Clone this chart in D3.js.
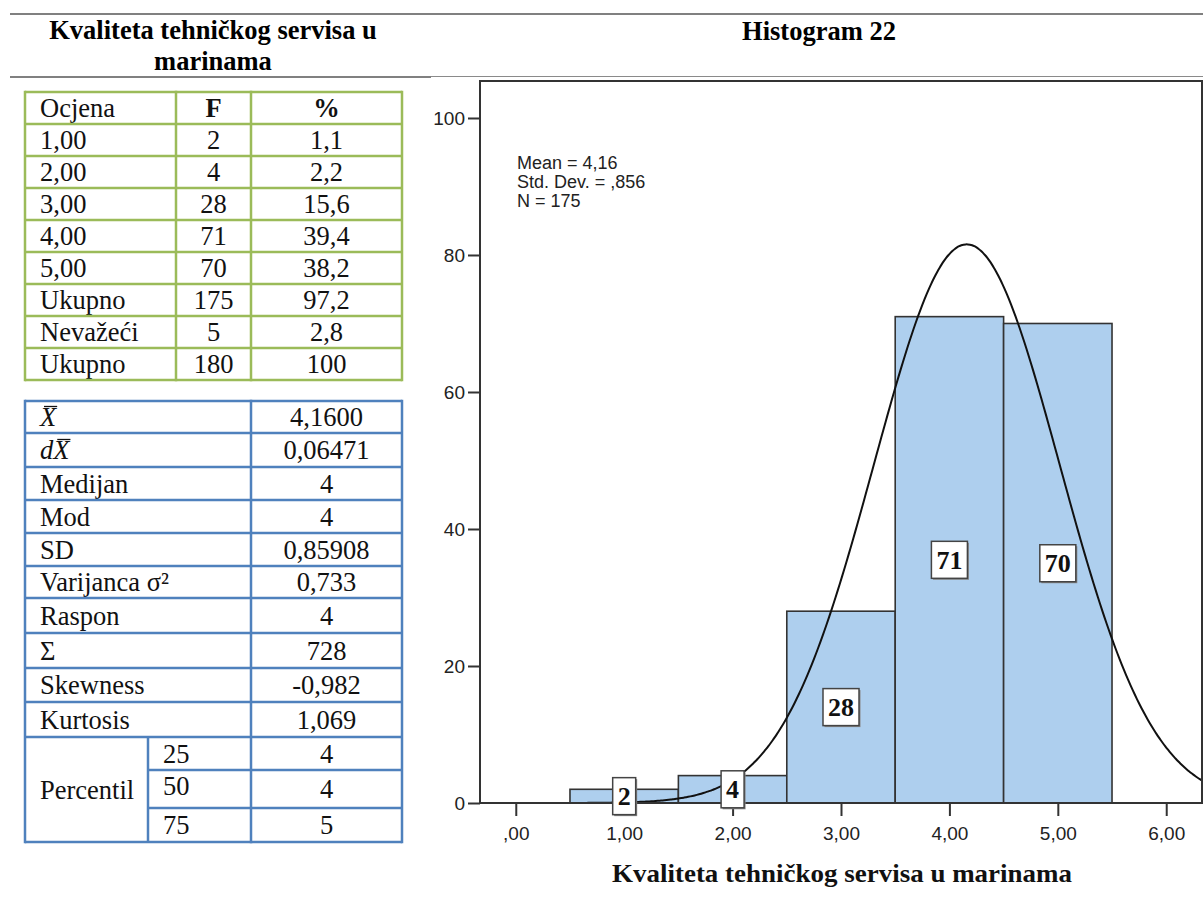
<!DOCTYPE html>
<html>
<head>
<meta charset="utf-8">
<script src="https://cdn.jsdelivr.net/npm/d3@7"></script>
<style>
  body { margin: 0; background: #fff; }
  .serif { font-family: "Liberation Serif", "Times New Roman", serif; }
  .sans { font-family: "Liberation Sans", Arial, sans-serif; }
</style>
</head>
<body>
<script>
// frequency table
var ocjene = ["1,00", "2,00", "3,00", "4,00", "5,00", "Ukupno", "Nevažeći", "Ukupno"];
var frekvencije = ["2", "4", "28", "71", "70", "175", "5", "180"];
var postoci = ["1,1", "2,2", "15,6", "39,4", "38,2", "97,2", "2,8", "100"];

// descriptive statistics table
var statNazivi = ["X\u0304", "dX\u0304", "Medijan", "Mod", "SD", "Varijanca σ²", "Raspon", "Σ", "Skewness", "Kurtosis"];
var statVrijednosti = ["4,1600", "0,06471", "4", "4", "0,85908", "0,733", "4", "728", "-0,982", "1,069"];
var percentili = ["25", "50", "75"];
var percentilVrijednosti = ["4", "4", "5"];

// histogram
var binCenters = [1, 2, 3, 4, 5];
var counts = [2, 4, 28, 71, 70];
var yTicks = [0, 20, 40, 60, 80, 100];
var xTicks = [0, 1, 2, 3, 4, 5, 6];
var xTickLabels = [",00", "1,00", "2,00", "3,00", "4,00", "5,00", "6,00"];
var mean = 4.16, stdDev = 0.856, N = 175;
var statsText = ["Mean = 4,16", "Std. Dev. = ,856", "N = 175"];

var W = 1203, H = 922;
var svg = d3.select("body").append("svg")
  .attr("width", W)
  .attr("height", H);

// page rules
svg.append("line").attr("x1", 10).attr("x2", W).attr("y1", 14).attr("y2", 14)
  .attr("stroke", "#808080").attr("stroke-width", 2);
svg.append("line").attr("x1", 10).attr("x2", 431).attr("y1", 77).attr("y2", 77)
  .attr("stroke", "#808080").attr("stroke-width", 2);
svg.append("line").attr("x1", 431).attr("x2", W).attr("y1", 76.5).attr("y2", 76.5)
  .attr("stroke", "#8a8a8a").attr("stroke-width", 1.2);

// headers
var fs = 26.5;
svg.append("text").attr("class", "serif").attr("x", 213).attr("y", 39)
  .attr("text-anchor", "middle").attr("font-weight", "bold").attr("font-size", fs)
  .text("Kvaliteta tehničkog servisa u");
svg.append("text").attr("class", "serif").attr("x", 213).attr("y", 70)
  .attr("text-anchor", "middle").attr("font-weight", "bold").attr("font-size", fs)
  .text("marinama");
svg.append("text").attr("class", "serif").attr("x", 819).attr("y", 40)
  .attr("text-anchor", "middle").attr("font-weight", "bold").attr("font-size", fs)
  .text("Histogram 22");

// ---------- table 1 (green) ----------
var green = "#9bbb59";
var t1Cols = [25, 176, 251, 402];
var t1Top = 92, t1Row = 32;
var t1Rows = [["Ocjena", "F", "%"]].concat(ocjene.map(function(d, i) {
  return [d, frekvencije[i], postoci[i]];
}));
var t1 = svg.append("g").attr("class", "serif").attr("font-size", fs).attr("fill", "#111");
t1Rows.forEach(function(r, i) {
  var top = t1Top + i * t1Row, base = top + t1Row / 2 + 9;
  t1.append("text").attr("x", 40).attr("y", base).text(r[0]);
  t1.append("text").attr("x", (t1Cols[1] + t1Cols[2]) / 2).attr("y", base)
    .attr("text-anchor", "middle").attr("font-weight", i === 0 ? "bold" : null).text(r[1]);
  t1.append("text").attr("x", (t1Cols[2] + t1Cols[3]) / 2).attr("y", base)
    .attr("text-anchor", "middle").attr("font-weight", i === 0 ? "bold" : null).text(r[2]);
});
d3.range(t1Rows.length + 1).forEach(function(i) {
  svg.append("line").attr("x1", t1Cols[0]).attr("x2", t1Cols[3])
    .attr("y1", t1Top + i * t1Row).attr("y2", t1Top + i * t1Row)
    .attr("stroke", green).attr("stroke-width", 2.5);
});
t1Cols.forEach(function(c) {
  svg.append("line").attr("x1", c).attr("x2", c)
    .attr("y1", t1Top - 1.25).attr("y2", t1Top + t1Rows.length * t1Row + 1.25)
    .attr("stroke", green).attr("stroke-width", 2.5);
});

// ---------- table 2 (blue) ----------
var blue = "#4f81bd";
var t2Cols = [25, 148, 251, 402];
var t2Edges = [401, 433, 467, 500, 533, 566, 598, 633, 668, 702, 737, 770, 808, 842];
var t2 = svg.append("g").attr("class", "serif").attr("font-size", fs).attr("fill", "#111");
statNazivi.forEach(function(name, i) {
  var base = (t2Edges[i] + t2Edges[i + 1]) / 2 + 9;
  if (name.indexOf("\u0304") >= 0) {
    // italic symbol with a bar over X
    var plain = name.replace("\u0304", "");
    var txt = t2.append("text").attr("x", 40).attr("y", base)
      .attr("font-style", "italic").text(plain);
    var ext = txt.node().getExtentOfChar(plain.length - 1);
    t2.append("line").attr("x1", ext.x + 4).attr("x2", ext.x + ext.width + 1)
      .attr("y1", base - 19.5).attr("y2", base - 19.5)
      .attr("stroke", "#111").attr("stroke-width", 1.3);
  } else {
    t2.append("text").attr("x", 40).attr("y", base).text(name);
  }
  t2.append("text").attr("x", (t2Cols[2] + t2Cols[3]) / 2).attr("y", base)
    .attr("text-anchor", "middle").text(statVrijednosti[i]);
});
var pTop = t2Edges[statNazivi.length];
t2.append("text").attr("x", 40).attr("y", (pTop + t2Edges[t2Edges.length - 1]) / 2 + 9).text("Percentil");
percentili.forEach(function(p, j) {
  var i = statNazivi.length + j;
  var base = (t2Edges[i] + t2Edges[i + 1]) / 2 + 9;
  t2.append("text").attr("x", 163).attr("y", base - (j === 1 ? 3 : 0)).text(p);
  t2.append("text").attr("x", (t2Cols[2] + t2Cols[3]) / 2).attr("y", base)
    .attr("text-anchor", "middle").text(percentilVrijednosti[j]);
});
t2Edges.forEach(function(e, i) {
  var inPerc = i > statNazivi.length && i < t2Edges.length - 1;
  svg.append("line").attr("x1", inPerc ? t2Cols[1] : t2Cols[0]).attr("x2", t2Cols[3])
    .attr("y1", e).attr("y2", e)
    .attr("stroke", blue).attr("stroke-width", 2.5);
});
[t2Cols[0], t2Cols[2], t2Cols[3]].forEach(function(c) {
  svg.append("line").attr("x1", c).attr("x2", c)
    .attr("y1", t2Edges[0] - 1.25).attr("y2", t2Edges[t2Edges.length - 1] + 1.25)
    .attr("stroke", blue).attr("stroke-width", 2.5);
});
svg.append("line").attr("x1", t2Cols[1]).attr("x2", t2Cols[1])
  .attr("y1", pTop).attr("y2", t2Edges[t2Edges.length - 1])
  .attr("stroke", blue).attr("stroke-width", 2.5);

// ---------- histogram ----------
var plot = {left: 480, right: 1202, top: 81, bottom: 803};

var x = d3.scaleLinear()
  .domain([-0.33, 6.33])
  .range([plot.left, plot.right]);
var y = d3.scaleLinear()
  .domain([0, 105.4])
  .range([plot.bottom, plot.top]);

var chart = svg.append("g");

chart.append("clipPath").attr("id", "plotClip")
  .append("rect")
  .attr("x", plot.left).attr("y", plot.top)
  .attr("width", plot.right - plot.left).attr("height", plot.bottom - plot.top);

// bars
chart.selectAll(".bar")
  .data(binCenters)
  .enter().append("rect")
  .attr("class", "bar")
  .attr("x", function(d) { return x(d - 0.5); })
  .attr("width", function(d) { return x(d + 0.5) - x(d - 0.5); })
  .attr("y", function(d, i) { return y(counts[i]); })
  .attr("height", function(d, i) { return y(0) - y(counts[i]); })
  .attr("fill", "#aecfee")
  .attr("stroke", "#333")
  .attr("stroke-width", 1.6);

// fitted normal curve (SPSS: N * bin width * pdf)
var normal = function(v) {
  var z = (v - mean) / stdDev;
  return N * 1 * Math.exp(-0.5 * z * z) / (stdDev * Math.sqrt(2 * Math.PI));
};
var curveX = d3.range(x.domain()[0], x.domain()[1] + 0.01, 0.02);
chart.append("path")
  .datum(curveX)
  .attr("clip-path", "url(#plotClip)")
  .attr("fill", "none")
  .attr("stroke", "#111")
  .attr("stroke-width", 2)
  .attr("d", d3.line()
    .x(function(d) { return x(d); })
    .y(function(d) { return y(normal(d)); })
    .curve(d3.curveBasis));

// frame
chart.append("rect")
  .attr("x", plot.left).attr("y", plot.top)
  .attr("width", plot.right - plot.left).attr("height", plot.bottom - plot.top)
  .attr("fill", "none").attr("stroke", "#333").attr("stroke-width", 2);

// y axis
var yAxis = chart.append("g")
  .attr("class", "sans")
  .attr("transform", "translate(" + plot.left + ",0)")
  .call(d3.axisLeft(y).tickValues(yTicks).tickSize(12).tickPadding(3));
yAxis.select(".domain").remove();
yAxis.selectAll("line").attr("stroke", "#333").attr("stroke-width", 2);
yAxis.selectAll("text").attr("font-size", 19).attr("fill", "#222")
  .attr("font-family", "Liberation Sans, Arial, sans-serif");

// x axis
var xAxis = chart.append("g")
  .attr("class", "sans")
  .attr("transform", "translate(0," + plot.bottom + ")")
  .call(d3.axisBottom(x).tickValues(xTicks).tickSize(13).tickPadding(11)
    .tickFormat(function(d, i) { return xTickLabels[i]; }));
xAxis.select(".domain").remove();
xAxis.selectAll("line").attr("stroke", "#333").attr("stroke-width", 2);
xAxis.selectAll("text").attr("font-size", 19).attr("fill", "#222")
  .attr("font-family", "Liberation Sans, Arial, sans-serif");

// stats legend
chart.append("g").attr("class", "sans").attr("font-size", 18).attr("fill", "#222")
  .selectAll("text")
  .data(statsText)
  .enter().append("text")
  .attr("x", 517)
  .attr("y", function(d, i) { return 169 + i * 19; })
  .text(function(d) { return d; });

// count labels in boxes at half bar height
var labels = chart.selectAll(".cnt")
  .data(binCenters)
  .enter().append("g")
  .attr("class", "cnt serif")
  .attr("transform", function(d, i) {
    return "translate(" + x(d) + "," + y(counts[i] / 2) + ")";
  });
labels.each(function(d, i) {
  var g = d3.select(this);
  var shadow = g.append("rect");
  var box = g.append("rect");
  var t = g.append("text")
    .attr("text-anchor", "middle")
    .attr("y", 9)
    .attr("font-size", 26)
    .attr("font-weight", "bold")
    .attr("fill", "#111")
    .text(counts[i]);
  var w = t.node().getComputedTextLength() + 10, h = 37;
  shadow.attr("x", -w / 2 + 1.5).attr("y", -h / 2 + 1.5).attr("width", w).attr("height", h)
    .attr("fill", "#888");
  box.attr("x", -w / 2).attr("y", -h / 2).attr("width", w).attr("height", h)
    .attr("fill", "#fff").attr("stroke", "#444").attr("stroke-width", 1.5);
});

// x axis title
chart.append("text")
  .attr("class", "serif")
  .attr("x", 842).attr("y", 882)
  .attr("text-anchor", "middle")
  .attr("font-size", 26)
  .attr("font-weight", "bold")
  .attr("fill", "#111")
  .attr("textLength", 460)
  .attr("lengthAdjust", "spacingAndGlyphs")
  .text("Kvaliteta tehničkog servisa u marinama");
</script>
</body>
</html>
